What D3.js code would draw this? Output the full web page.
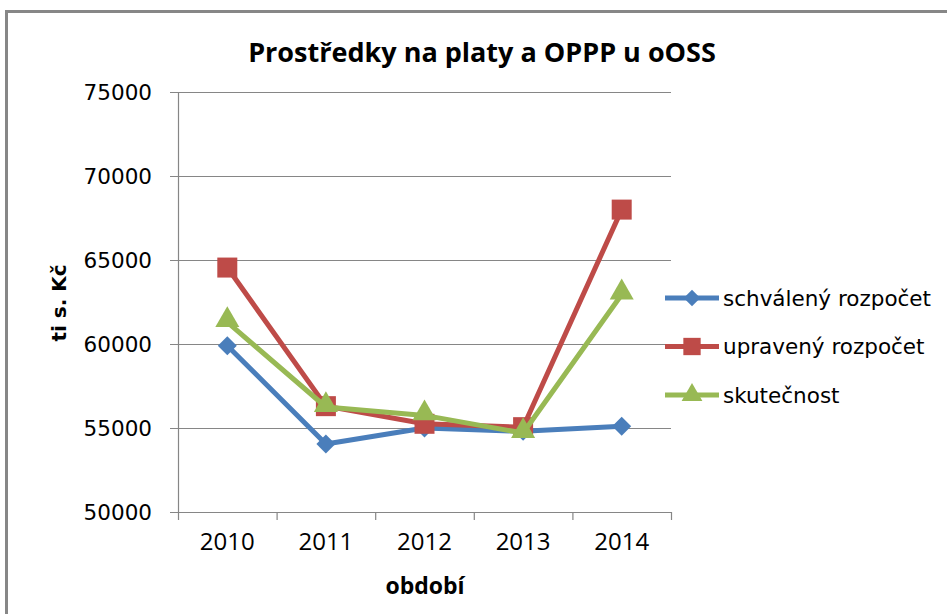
<!DOCTYPE html>
<html>
<head>
<meta charset="utf-8">
<script src="https://cdn.jsdelivr.net/npm/d3@7"></script>
<style>
  body { margin: 0; background: #fff; }
  svg { display: block; }
</style>
</head>
<body>
<div id="chart"></div>
<script>
const years = ["2010", "2011", "2012", "2013", "2014"];
const schvaleny = [59900, 54050, 55000, 54800, 55100];
const upraveny = [64550, 56300, 55250, 55050, 68000];
const skutecnost = [61300, 56250, 55750, 54700, 62950];
const yTicks = [50000, 55000, 60000, 65000, 70000, 75000];

const series = [
    { name: "schválený rozpočet", values: schvaleny, color: "#4A7EBB", marker: "diamond" },
    { name: "upravený rozpočet", values: upraveny, color: "#BE4B48", marker: "square" },
    { name: "skutečnost", values: skutecnost, color: "#98B954", marker: "triangle" }
];

const width = 947, height = 614;
const plot = { left: 178, right: 671, top: 92, bottom: 512 };
const narrow = "'Open Sans', sans-serif";
const wide = "'DejaVu Sans', Verdana, sans-serif";

const svg = d3.select("#chart").append("svg")
    .attr("width", width)
    .attr("height", height);

// outer frame
svg.append("rect")
    .attr("x", 6.5).attr("y", 11.5)
    .attr("width", width + 20).attr("height", height + 20)
    .attr("fill", "none")
    .attr("stroke", "#878787")
    .attr("stroke-width", 3);

const x = d3.scaleBand().domain(years).range([plot.left, plot.right]);
const y = d3.scaleLinear().domain([50000, 75000]).range([plot.bottom, plot.top]);

// gridlines
svg.append("g")
    .selectAll("line")
    .data(yTicks)
    .join("line")
    .attr("x1", plot.left - 8).attr("x2", plot.right)
    .attr("y1", d => y(d) + 0.5).attr("y2", d => y(d) + 0.5)
    .attr("stroke", "#868686")
    .attr("stroke-width", 1.2);

// y axis line
svg.append("line")
    .attr("x1", plot.left + 0.5).attr("x2", plot.left + 0.5)
    .attr("y1", plot.top).attr("y2", plot.bottom)
    .attr("stroke", "#868686").attr("stroke-width", 1.2);

// x ticks at category boundaries
const bounds = years.map(d => x(d)).concat([plot.right]);
svg.append("g")
    .selectAll("line")
    .data(bounds)
    .join("line")
    .attr("x1", d => d + 0.5).attr("x2", d => d + 0.5)
    .attr("y1", plot.bottom).attr("y2", plot.bottom + 8)
    .attr("stroke", "#868686").attr("stroke-width", 1.2);

// y tick labels
svg.append("g")
    .selectAll("text")
    .data(yTicks)
    .join("text")
    .attr("x", plot.left - 26)
    .attr("y", d => y(d))
    .attr("dy", "0.36em")
    .attr("text-anchor", "end")
    .attr("font-family", wide)
    .attr("font-size", 21.5)
    .attr("fill", "#000")
    .text(d => d);

// x tick labels
svg.append("g")
    .selectAll("text")
    .data(years)
    .join("text")
    .attr("x", d => x(d) + x.bandwidth() / 2)
    .attr("y", 550)
    .attr("text-anchor", "middle")
    .attr("font-family", narrow)
    .attr("font-size", 24)
    .attr("fill", "#000")
    .text(d => d);

// titles
svg.append("text")
    .attr("x", 482).attr("y", 62)
    .attr("text-anchor", "middle")
    .attr("font-family", narrow)
    .attr("font-weight", "bold")
    .attr("font-size", 27)
    .text("Prostředky na platy a OPPP u oOSS");

svg.append("text")
    .attr("x", 425).attr("y", 594)
    .attr("text-anchor", "middle")
    .attr("font-family", narrow)
    .attr("font-weight", "bold")
    .attr("font-size", 23)
    .text("období");

svg.append("text")
    .attr("transform", "translate(66,303) rotate(-90)")
    .attr("text-anchor", "middle")
    .attr("font-family", wide)
    .attr("font-weight", "bold")
    .attr("font-size", 20)
    .text("ti s. Kč");

function markerPath(kind, scale) {
    if (kind === "diamond") return d3.symbol().type(d3.symbolSquare).size(180 * scale)();
    if (kind === "square") return d3.symbol().type(d3.symbolSquare).size(400 * scale)();
    return d3.symbol().type(d3.symbolTriangle).size(250 * scale)();
}
function markerRot(kind) { return kind === "diamond" ? " rotate(45)" : ""; }

const line = d3.line()
    .x((d, i) => x(years[i]) + x.bandwidth() / 2)
    .y(d => y(d));

series.forEach(s => {
    const g = svg.append("g");
    g.append("path")
        .attr("d", line(s.values))
        .attr("fill", "none")
        .attr("stroke", s.color)
        .attr("stroke-width", 5)
        .attr("stroke-linejoin", "round");
    g.selectAll("path.m")
        .data(s.values)
        .join("path")
        .attr("class", "m")
        .attr("d", markerPath(s.marker, 1))
        .attr("transform", (d, i) => `translate(${x(years[i]) + x.bandwidth() / 2},${y(d) + (s.marker === "triangle" ? -2 : 0)})` + markerRot(s.marker))
        .attr("fill", s.color);
});

// legend
const legend = svg.append("g")
    .selectAll("g")
    .data(series)
    .join("g")
    .attr("transform", (d, i) => `translate(665,${298 + i * 48.5})`);

legend.append("line")
    .attr("x1", 0).attr("x2", 54)
    .attr("stroke", d => d.color)
    .attr("stroke-width", 5);

legend.append("path")
    .attr("d", d => markerPath(d.marker, 0.75))
    .attr("transform", d => "translate(27,0)" + markerRot(d.marker))
    .attr("fill", d => d.color);

legend.append("text")
    .attr("x", 58)
    .attr("dy", "0.36em")
    .attr("font-family", wide)
    .attr("font-size", 21.5)
    .attr("fill", "#000")
    .text(d => d.name);
</script>
</body>
</html>
